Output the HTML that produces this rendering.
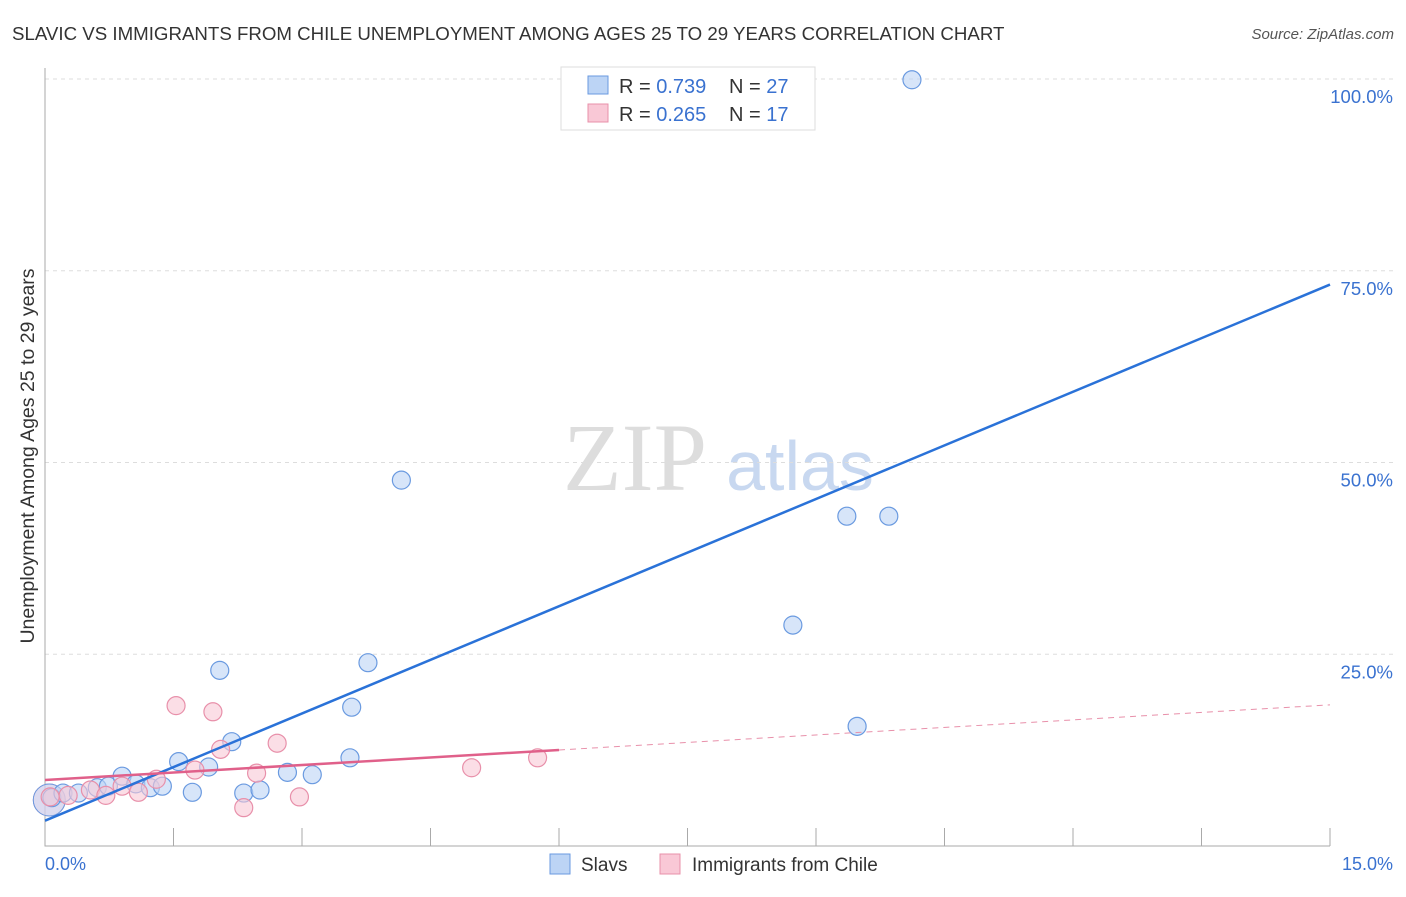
<!DOCTYPE html><html><head><meta charset="utf-8"><style>body{margin:0;background:#fff;font-family:"Liberation Sans",sans-serif}</style></head><body>
<svg width="1406" height="892" xmlns="http://www.w3.org/2000/svg">
<text x="12" y="40" font-size="18.7" fill="#333">SLAVIC VS IMMIGRANTS FROM CHILE UNEMPLOYMENT AMONG AGES 25 TO 29 YEARS CORRELATION CHART</text>
<text x="1394" y="39" font-size="15" fill="#555" font-style="italic" text-anchor="end">Source: ZipAtlas.com</text>
<text x="635" y="490" font-size="96" fill="#ddd" font-family="Liberation Serif,serif" text-anchor="middle">ZIP</text>
<text x="800" y="490" font-size="70" fill="#c8d8f0" text-anchor="middle">atlas</text>
<g id="grid"></g><g id="marks"></g>
<text transform="translate(34,456) rotate(-90)" font-size="19.5" fill="#333" text-anchor="middle">Unemployment Among Ages 25 to 29 years</text>
<text x="45" y="870" font-size="18" fill="#3a72d0">0.0%</text>
<text x="1393" y="870" font-size="18" fill="#3a72d0" text-anchor="end">15.0%</text>
<g>
<rect x="561" y="67" width="254" height="63" fill="#fff" stroke="#ddd"/>
<rect x="588" y="76" width="20" height="18" fill="#bcd4f5" stroke="#6a9ae0"/>
<rect x="588" y="104" width="20" height="18" fill="#f9c8d6" stroke="#e890aa"/>
<text x="619" y="93" font-size="20" fill="#333">R = <tspan fill="#3a72d0">0.739</tspan></text>
<text x="729" y="93" font-size="20" fill="#333">N = <tspan fill="#3a72d0">27</tspan></text>
<text x="619" y="121" font-size="20" fill="#333">R = <tspan fill="#3a72d0">0.265</tspan></text>
<text x="729" y="121" font-size="20" fill="#333">N = <tspan fill="#3a72d0"> 17</tspan></text>
</g>
<g>
<rect x="550" y="854" width="20" height="20" fill="#bcd4f5" stroke="#6a9ae0"/>
<text x="581" y="871" font-size="19" fill="#333">Slavs</text>
<rect x="660" y="854" width="20" height="20" fill="#f9c8d6" stroke="#e890aa"/>
<text x="692" y="871" font-size="19" fill="#333">Immigrants from Chile</text>
</g>
</svg>
<script>
const slavX=[0.08,0.21,0.39,0.61,0.74,0.90,1.06,1.23,1.37,1.56,1.72,1.91,2.04,2.18,2.32,2.51,2.83,3.12,3.56,3.58,3.77,4.16,8.73,9.36,9.85,9.48,10.12];
const slavY=[6.3,6.9,6.9,7.6,7.8,9.1,8.1,7.6,7.8,11.0,7.0,10.3,22.9,13.6,6.9,7.3,9.6,9.3,11.5,18.1,23.9,47.7,28.8,43.0,43.0,15.6,99.9];
const chileX=[0.06,0.27,0.53,0.71,0.90,1.09,1.30,1.53,1.75,1.96,2.05,2.32,2.47,2.71,2.97,4.98,5.75];
const chileY=[6.4,6.6,7.3,6.6,7.8,7.0,8.7,18.3,9.9,17.5,12.6,5.0,9.5,13.4,6.4,10.2,11.5];
const yTicks=[25,50,75,100];
const slavTrend=[3.3,73.2];
const chileTrend=[8.6,18.4];
const xs=v=>45+v/15*1285, ys=v=>846-v/100*767;
const NS='http://www.w3.org/2000/svg';
function mk(p,t,a){const e=document.createElementNS(NS,t);for(const k in a)e.setAttribute(k,a[k]);p.appendChild(e);return e;}
const g=document.getElementById('grid'),m=document.getElementById('marks');
yTicks.forEach(t=>{const l=mk(g,'line',{x1:45,x2:1393,y1:ys(t),y2:ys(t),stroke:'#ddd','stroke-dasharray':'4,4'});


const tx=mk(g,'text',{x:1393,y:ys(t)+24,'font-size':18.5,fill:'#3a72d0','text-anchor':'end'});tx.textContent=t.toFixed(1)+'%';

});
const ax=mk(g,'path',{d:'M45,68V846H1330',stroke:'#aaa',fill:'none'});


for(let i=1;i<=10;i++){const t=mk(g,'line',{x1:xs(i*1.5),x2:xs(i*1.5),y1:828,y2:846,stroke:'#aaa'});

}
[['#e890aa','rgba(249,200,214,0.5)'],['#6a9ae0','rgba(188,212,245,0.5)']].forEach(c=>{const b=mk(m,'circle',{cx:xs(0.05),cy:ys(6),r:16,fill:c[1],stroke:c[0]});

});
slavX.forEach((x,i)=>{const c=mk(m,'circle',{cx:xs(x),cy:ys(slavY[i]),r:9,fill:'rgba(188,212,245,0.6)',stroke:'#6a9ae0','stroke-width':1.2});

});
chileX.forEach((x,i)=>{const c=mk(m,'circle',{cx:xs(x),cy:ys(chileY[i]),r:9,fill:'rgba(249,200,214,0.6)',stroke:'#e890aa','stroke-width':1.2});

});
const bl=mk(m,'line',{x1:xs(0),y1:ys(slavTrend[0]),x2:xs(15),y2:ys(slavTrend[1]),stroke:'#2a72d8','stroke-width':2.5});


const cy=x=>chileTrend[0]+(chileTrend[1]-chileTrend[0])*x/15;
const pl=mk(m,'line',{x1:xs(0),y1:ys(cy(0)),x2:xs(6),y2:ys(cy(6)),stroke:'#e0608a','stroke-width':2.5});


const pd=mk(m,'line',{x1:xs(6),y1:ys(cy(6)),x2:xs(15),y2:ys(cy(15)),stroke:'#e890aa','stroke-width':1,'stroke-dasharray':'6,5'});


</script></body></html>
